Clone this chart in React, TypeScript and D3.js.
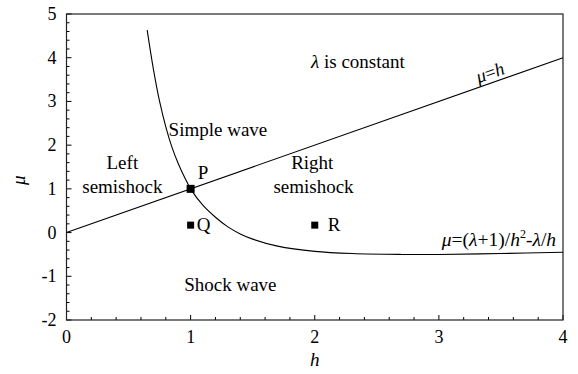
import React from 'react';
import * as d3 from 'd3';

// curve mu = (lambda+1)/h^2 - lambda/h
const curveH = [0.65, 0.7, 0.75, 0.8, 0.85, 0.9, 0.95, 1.0, 1.1, 1.2, 1.3, 1.4, 1.5, 1.7, 2.0, 2.3, 2.7, 3.0, 3.5, 4.0];
const curveMu = [4.63, 3.74, 3.0, 2.42, 1.95, 1.58, 1.27, 1.0, 0.62, 0.35, 0.13, -0.03, -0.15, -0.31, -0.43, -0.48, -0.5, -0.5, -0.48, -0.45];

// line mu = h
const lineH = [0, 4];
const lineMu = [0, 4];

// marked points
const pointNames = ['P', 'Q', 'R'];
const pointH = [1, 1, 2];
const pointMu = [1, 0.17, 0.17];

const xTicks = [0, 1, 2, 3, 4];
const yTicks = [-2, -1, 0, 1, 2, 3, 4, 5];

const FONT = 'Liberation Serif';

const W = 578;
const H = 374;
const margin = { top: 14, right: 15, bottom: 54, left: 66.5 };
const width = W - margin.left - margin.right;
const height = H - margin.top - margin.bottom;

const x = d3.scaleLinear().domain([0, 4]).range([0, width]);
const y = d3.scaleLinear().domain([-2, 5]).range([height, 0]);

const xMinor = d3.range(0, 4.001, 0.2).filter(v => Math.abs(v - Math.round(v)) > 1e-6);
const yMinor = d3.range(-2, 5.001, 0.2).filter(v => Math.abs(v - Math.round(v)) > 1e-6);

export default function App() {
  const line = d3.line<[number, number]>().x(d => x(d[0])).y(d => y(d[1]));
  const curve = d3.line<[number, number]>().x(d => x(d[0])).y(d => y(d[1])).curve(d3.curveCatmullRom);
  const lineData = lineH.map((h, i) => [h, lineMu[i]] as [number, number]);
  const curveData = curveH.map((h, i) => [h, curveMu[i]] as [number, number]);

  const angle = (Math.atan2(y(0) - y(1), x(1) - x(0)) * 180) / Math.PI;
  const sizes = [8, 7, 7];
  const labelDx = [7, 6, 13];
  const labelDy = [-10, 6, 6];

  const label = (tx: number, ty: number, s: string) => (
    <text key={s + tx + ty} x={x(tx)} y={y(ty)} textAnchor="middle" fontSize={19}>
      {s}
    </text>
  );

  return (
    <svg
      width={W}
      height={H}
      fontFamily={FONT}
      style={{ position: 'absolute', left: 0, top: 0, background: '#fff', fontFamily: FONT }}
    >
      <g transform={`translate(${margin.left},${margin.top})`}>
        {/* minor ticks */}
        {xMinor.map(v => (
          <line key={'xm' + v} x1={x(v)} x2={x(v)} y1={height} y2={height - 3} stroke="#000" />
        ))}
        {yMinor.map(v => (
          <line key={'ym' + v} x1={0} x2={3} y1={y(v)} y2={y(v)} stroke="#000" />
        ))}
        {/* major ticks + labels */}
        {xTicks.map(v => (
          <g key={'x' + v}>
            <line x1={x(v)} x2={x(v)} y1={height} y2={height - 5} stroke="#000" />
            <text x={x(v)} y={height + 23} textAnchor="middle" fontSize={18}>
              {v}
            </text>
          </g>
        ))}
        {yTicks.map(v => (
          <g key={'y' + v}>
            <line x1={0} x2={5} y1={y(v)} y2={y(v)} stroke="#000" />
            <text x={-10} y={y(v) + 6} textAnchor="end" fontSize={18}>
              {v}
            </text>
          </g>
        ))}
        {/* frame */}
        <rect width={width} height={height} fill="none" stroke="#222" strokeWidth={1.2} />

        {/* mu = h and the curve */}
        <path d={line(lineData) || ''} fill="none" stroke="#000" strokeWidth={1.1} />
        <path d={curve(curveData) || ''} fill="none" stroke="#000" strokeWidth={1.1} />

        {/* points */}
        {pointNames.map((name, i) => (
          <g key={name}>
            <rect
              x={x(pointH[i]) - sizes[i] / 2}
              y={y(pointMu[i]) - sizes[i] / 2}
              width={sizes[i]}
              height={sizes[i]}
              fill="#000"
            />
            <text x={x(pointH[i]) + labelDx[i]} y={y(pointMu[i]) + labelDy[i]} fontSize={19}>
              {name}
            </text>
          </g>
        ))}

        {/* region labels */}
        {label(1.22, 2.22, 'Simple wave')}
        {label(0.45, 1.45, 'Left')}
        {label(0.45, 0.9, 'semishock')}
        {label(1.98, 1.45, 'Right')}
        {label(1.99, 0.9, 'semishock')}
        {label(1.32, -1.34, 'Shock wave')}

        <text x={x(1.97)} y={y(3.76)} fontSize={19}>
          <tspan fontStyle="italic">λ</tspan>
          <tspan> is constant</tspan>
        </text>

        {/* formula */}
        <text x={x(3.944)} y={y(-0.31)} textAnchor="end" fontSize={19.5}>
          <tspan fontStyle="italic">μ</tspan>
          <tspan>=(</tspan>
          <tspan fontStyle="italic">λ</tspan>
          <tspan>+1)/</tspan>
          <tspan fontStyle="italic">h</tspan>
          <tspan dy={-8} fontSize={12}>2</tspan>
          <tspan dy={8}>-</tspan>
          <tspan fontStyle="italic">λ</tspan>
          <tspan>/</tspan>
          <tspan fontStyle="italic">h</tspan>
        </text>

        {/* rotated mu = h */}
        <text
          transform={`translate(${x(3.44)},${y(3.44)}) rotate(${-angle})`}
          y={-4}
          textAnchor="middle"
          fontSize={18.5}
        >
          <tspan fontStyle="italic">μ</tspan>
          <tspan>=</tspan>
          <tspan fontStyle="italic">h</tspan>
        </text>

        {/* axis titles */}
        <text x={x(2)} y={height + 46} textAnchor="middle" fontSize={19} fontStyle="italic">
          h
        </text>
        <text transform={`translate(-42,${y(1.2)}) rotate(-90)`} textAnchor="middle" fontSize={19} fontStyle="italic">
          μ
        </text>
      </g>
    </svg>
  );
}
